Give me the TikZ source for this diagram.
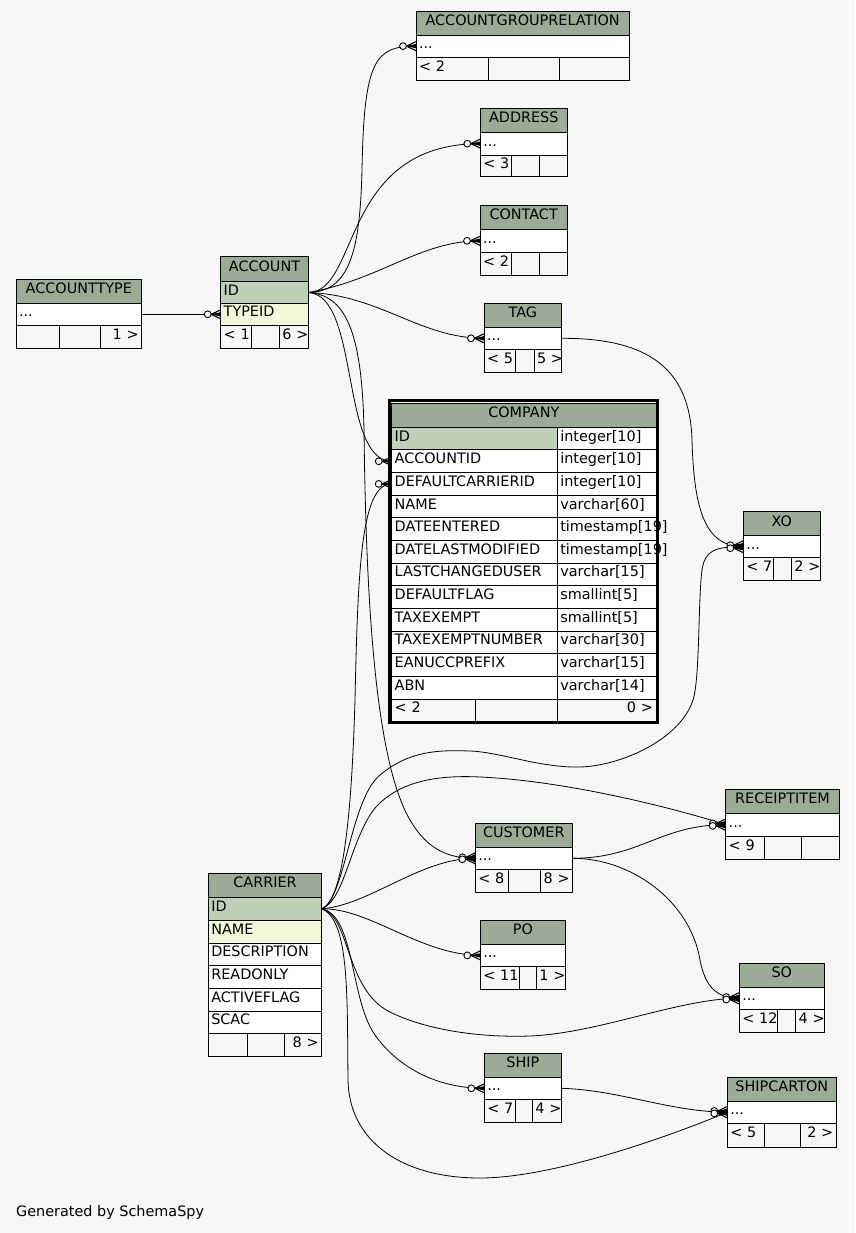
\documentclass[tikz,border=0pt]{standalone}
\usepackage{fontspec}
\newfontfamily\erfam{DejaVu Sans}
\newcommand\erfont{\erfam\fontsize{14.4}{16}\selectfont}
\definecolor{hdc}{HTML}{9BAB96}
\definecolor{pkc}{HTML}{BED1B8}
\definecolor{ixc}{HTML}{F4F7DA}
\definecolor{bgc}{HTML}{F7F7F7}
\tikzset{
  cellbase/.style={draw=black, line width=0.9pt, anchor=north west, inner xsep=3pt, inner ysep=0pt,
    outer sep=0pt, text height=10pt, text depth=5pt, font=\erfont, fill=white, align=left},
  hd/.style={fill=hdc, align=center},
  pk/.style={fill=pkc},
  ix/.style={fill=ixc},
  ftl/.style={fill=bgc, align=left},
  ftr/.style={fill=bgc, align=right},
  erline/.style={draw=black, line width=0.8pt},
  crowline/.style={draw=black, line width=1.1pt},
}
% name, style, x0, y0, x1, y1, text
\newcommand\ercell[7]{%
  \pgfmathsetmacro\ercw{#5-#3-6}%
  \pgfmathsetmacro\erch{#6-#4}%
  \node[cellbase,#2,text width=\ercw pt,minimum height=\erch pt] (#1) at (#3,#4) {\mbox{#7}};}
% crow's foot with circle at an anchor, vertical offset
\newcommand\ercrow[2]{%
  \begin{scope}[shift={(#1)}]\begin{scope}[shift={(0,#2)}]
    \draw[crowline] (-9.5,0) -- (0,-4.5) (-9.5,0) -- (0,4.5) (-9.5,0) -- (0,0);
    \fill[black] (-9.5,0) -- (0,-2.2) -- (0,2.2) -- cycle;
    \draw[line width=0.9pt, fill=white] (-13,0) circle[radius=3.4];
  \end{scope}\end{scope}}
\begin{document}
\begin{tikzpicture}[x=1pt,y=-1pt]
\useasboundingbox (0,0) rectangle (855,1233);
\fill[bgc] (0,0) rectangle (855,1233);

% ACCOUNTTYPE
\ercell{at}{hd}{16}{279.3}{141.7}{303.3}{ACCOUNTTYPE}
\ercell{at-r}{}{16}{303.3}{141.7}{325.3}{...}
\ercell{at-f1}{ftl}{16}{325.3}{59.3}{348.3}{}
\ercell{at-f2}{ftl}{59.3}{325.3}{100.7}{348.3}{}
\ercell{at-f3}{ftr}{100.7}{325.3}{141.7}{348.3}{1 >}

% ACCOUNT
\ercell{acc}{hd}{220.7}{256.5}{308.3}{281.7}{ACCOUNT}
\ercell{acc-id}{pk}{220.7}{281.7}{308.3}{303.3}{ID}
\ercell{acc-type}{ix}{220.7}{303.3}{308.3}{325.3}{TYPEID}
\ercell{acc-f1}{ftl}{220.7}{325.3}{251.7}{348.3}{< 1}
\ercell{acc-f2}{ftl}{251.7}{325.3}{279.3}{348.3}{}
\ercell{acc-f3}{ftr}{279.3}{325.3}{308.3}{348.3}{6 >}

% ACCOUNTGROUPRELATION
\ercell{agr}{hd}{416}{11.7}{629.3}{35}{ACCOUNTGROUPRELATION}
\ercell{agr-r}{}{416}{35}{629.3}{57.3}{...}
\ercell{agr-f1}{ftl}{416}{57.3}{488.3}{80}{< 2}
\ercell{agr-f2}{ftl}{488.3}{57.3}{559.3}{80}{}
\ercell{agr-f3}{ftr}{559.3}{57.3}{629.3}{80}{}

% ADDRESS
\ercell{adr}{hd}{480.3}{108.3}{567.3}{132.3}{ADDRESS}
\ercell{adr-r}{}{480.3}{132.3}{567.3}{155}{...}
\ercell{adr-f1}{ftl}{480.3}{155}{511}{176.7}{< 3}
\ercell{adr-f2}{ftl}{511}{155}{539.3}{176.7}{}
\ercell{adr-f3}{ftr}{539.3}{155}{567.3}{176.7}{}

% CONTACT
\ercell{con}{hd}{480}{205.7}{567.3}{229.3}{CONTACT}
\ercell{con-r}{}{480}{229.3}{567.3}{252.3}{...}
\ercell{con-f1}{ftl}{480}{252.3}{511}{275}{< 2}
\ercell{con-f2}{ftl}{511}{252.3}{539.3}{275}{}
\ercell{con-f3}{ftr}{539.3}{252.3}{567.3}{275}{}

% TAG
\ercell{tag}{hd}{484}{303.3}{561.7}{327.3}{TAG}
\ercell{tag-r}{}{484}{327.3}{561.7}{349.3}{...}
\ercell{tag-f1}{ftl}{484}{349.3}{515.7}{372.3}{< 5}
\ercell{tag-f2}{ftl}{515.7}{349.3}{534}{372.3}{}
\ercell{tag-f3}{ftr}{534}{349.3}{561.7}{372.3}{5 >}

% XO
\ercell{xo}{hd}{743.3}{511.7}{820.3}{535.7}{XO}
\ercell{xo-r}{}{743.3}{535.7}{820.3}{557.7}{...}
\ercell{xo-f1}{ftl}{743.3}{557.7}{773.3}{580}{< 7}
\ercell{xo-f2}{ftl}{773.3}{557.7}{791.3}{580}{}
\ercell{xo-f3}{ftr}{791.3}{557.7}{820.3}{580}{2 >}

% RECEIPTITEM
\ercell{ri}{hd}{725.7}{789.3}{839.3}{813.3}{RECEIPTITEM}
\ercell{ri-r}{}{725.7}{813.3}{839.3}{836}{...}
\ercell{ri-f1}{ftl}{725.7}{836}{764.7}{859}{< 9}
\ercell{ri-f2}{ftl}{764.7}{836}{801.7}{859}{}
\ercell{ri-f3}{ftr}{801.7}{836}{839.3}{859}{}

% CUSTOMER
\ercell{cus}{hd}{475.3}{823.3}{572.3}{847.3}{CUSTOMER}
\ercell{cus-r}{}{475.3}{847.3}{572.3}{869.3}{...}
\ercell{cus-f1}{ftl}{475.3}{869.3}{508.7}{892.3}{< 8}
\ercell{cus-f2}{ftl}{508.7}{869.3}{540.7}{892.3}{}
\ercell{cus-f3}{ftr}{540.7}{869.3}{572.3}{892.3}{8 >}

% PO
\ercell{po}{hd}{480.3}{920.3}{565.7}{944}{PO}
\ercell{po-r}{}{480.3}{944}{565.7}{966.7}{...}
\ercell{po-f1}{ftl}{480.3}{966.7}{519.7}{989}{< 11}
\ercell{po-f2}{ftl}{519.7}{966.7}{536.3}{989}{}
\ercell{po-f3}{ftr}{536.3}{966.7}{565.7}{989}{1 >}

% SHIP
\ercell{ship}{hd}{484.3}{1053.3}{561.3}{1077.3}{SHIP}
\ercell{ship-r}{}{484.3}{1077.3}{561.3}{1099.3}{...}
\ercell{ship-f1}{ftl}{484.3}{1099.3}{515.7}{1122.3}{< 7}
\ercell{ship-f2}{ftl}{515.7}{1099.3}{532.3}{1122.3}{}
\ercell{ship-f3}{ftr}{532.3}{1099.3}{561.3}{1122.3}{4 >}

% SO
\ercell{so}{hd}{739.3}{963.3}{824.3}{987.3}{SO}
\ercell{so-r}{}{739.3}{987.3}{824.3}{1009.3}{...}
\ercell{so-f1}{ftl}{739.3}{1009.3}{777.7}{1032.3}{< 12}
\ercell{so-f2}{ftl}{777.7}{1009.3}{795.7}{1032.3}{}
\ercell{so-f3}{ftr}{795.7}{1009.3}{824.3}{1032.3}{4 >}

% SHIPCARTON
\ercell{sc}{hd}{727.3}{1077.3}{836.3}{1101}{SHIPCARTON}
\ercell{sc-r}{}{727.3}{1101}{836.3}{1123.3}{...}
\ercell{sc-f1}{ftl}{727.3}{1123.3}{764.3}{1147.3}{< 5}
\ercell{sc-f2}{ftl}{764.3}{1123.3}{800.7}{1147.3}{}
\ercell{sc-f3}{ftr}{800.7}{1123.3}{836.3}{1147.3}{2 >}

% CARRIER
\ercell{car}{hd}{208.3}{873.3}{321.7}{897.3}{CARRIER}
\ercell{car-id}{pk}{208.3}{897.3}{321.7}{920.3}{ID}
\ercell{car-name}{ix}{208.3}{920.3}{321.7}{943.3}{NAME}
\ercell{car-desc}{}{208.3}{943.3}{321.7}{965.3}{DESCRIPTION}
\ercell{car-ro}{}{208.3}{965.3}{321.7}{988.3}{READONLY}
\ercell{car-af}{}{208.3}{988.3}{321.7}{1011}{ACTIVEFLAG}
\ercell{car-scac}{}{208.3}{1011}{321.7}{1033.3}{SCAC}
\ercell{car-f1}{ftl}{208.3}{1033.3}{247.7}{1056}{}
\ercell{car-f2}{ftl}{247.7}{1033.3}{284.7}{1056}{}
\ercell{car-f3}{ftr}{284.7}{1033.3}{321.7}{1056}{8 >}

% COMPANY
\ercell{cmp}{hd}{391.7}{403.3}{656}{427.3}{COMPANY}
\ercell{cmp-id}{pk}{391.7}{427.3}{557.3}{449.9}{ID}
\ercell{cmp-id-t}{}{557.3}{427.3}{656}{449.9}{integer[10]}
\ercell{cmp-acc}{}{391.7}{449.9}{557.3}{472.6}{ACCOUNTID}
\ercell{cmp-acc-t}{}{557.3}{449.9}{656}{472.6}{integer[10]}
\ercell{cmp-dc}{}{391.7}{472.6}{557.3}{495.2}{DEFAULTCARRIERID}
\ercell{cmp-dc-t}{}{557.3}{472.6}{656}{495.2}{integer[10]}
\ercell{cmp-name}{}{391.7}{495.2}{557.3}{517.9}{NAME}
\ercell{cmp-name-t}{}{557.3}{495.2}{656}{517.9}{varchar[60]}
\ercell{cmp-de}{}{391.7}{517.9}{557.3}{540.5}{DATEENTERED}
\ercell{cmp-de-t}{}{557.3}{517.9}{656}{540.5}{timestamp[19]}
\ercell{cmp-dlm}{}{391.7}{540.5}{557.3}{563.1}{DATELASTMODIFIED}
\ercell{cmp-dlm-t}{}{557.3}{540.5}{656}{563.1}{timestamp[19]}
\ercell{cmp-lcu}{}{391.7}{563.1}{557.3}{585.8}{LASTCHANGEDUSER}
\ercell{cmp-lcu-t}{}{557.3}{563.1}{656}{585.8}{varchar[15]}
\ercell{cmp-df}{}{391.7}{585.8}{557.3}{608.4}{DEFAULTFLAG}
\ercell{cmp-df-t}{}{557.3}{585.8}{656}{608.4}{smallint[5]}
\ercell{cmp-te}{}{391.7}{608.4}{557.3}{631.1}{TAXEXEMPT}
\ercell{cmp-te-t}{}{557.3}{608.4}{656}{631.1}{smallint[5]}
\ercell{cmp-ten}{}{391.7}{631.1}{557.3}{653.7}{TAXEXEMPTNUMBER}
\ercell{cmp-ten-t}{}{557.3}{631.1}{656}{653.7}{varchar[30]}
\ercell{cmp-ean}{}{391.7}{653.7}{557.3}{676.3}{EANUCCPREFIX}
\ercell{cmp-ean-t}{}{557.3}{653.7}{656}{676.3}{varchar[15]}
\ercell{cmp-abn}{}{391.7}{676.3}{557.3}{699}{ABN}
\ercell{cmp-abn-t}{}{557.3}{676.3}{656}{699}{varchar[14]}
\ercell{cmp-f1}{ftl}{391.7}{699}{475.7}{721.3}{< 2}
\ercell{cmp-f2}{ftl}{475.7}{699}{557.3}{721.3}{}
\ercell{cmp-f3}{ftr}{557.3}{699}{656}{721.3}{0 >}
\draw[line width=3pt] (389,400.4) rectangle (657.7,722.6);

% connectors
\draw[erline] (at-r.east) -- (acc-type.west);
\draw[erline] (acc-id.east) .. controls (350,292) and (360,250) .. (362,170) .. controls (364,60) and (375,46.2) .. (agr-r.west);
\draw[erline] (acc-id.east) .. controls (360,292) and (340,143.7) .. (adr-r.west);
\draw[erline] (acc-id.east) .. controls (380,280) and (420,240.8) .. (con-r.west);
\draw[erline] (acc-id.east) .. controls (380,295) and (420,338.3) .. (tag-r.west);
\draw[erline] (acc-id.east) .. controls (360,295) and (340,461) .. (cmp-acc.west);
\draw[erline] (acc-id.east) .. controls (345,295) and (362,330) .. (364,430) .. controls (366,600) and (375,760) .. (410,820) .. controls (428,851) and (450,858.3) .. (cus-r.west);
\draw[erline] (tag-r.east) .. controls (650,338) and (690,370) .. (692,440) .. controls (694,510) and (705,546.7) .. (xo-r.west);
\draw[erline] (car-id.east) .. controls (345,900) and (352,800) .. (355,700) .. controls (358,560) and (362,484) .. (cmp-dc.west);
\draw[erline] (car-id.east) .. controls (345,900) and (350,800) .. (380,775) .. controls (410,750) and (440,750) .. (470,751) .. controls (500,752) and (540,768) .. (580,767) .. controls (620,766) and (680,740) .. (693,700) .. controls (700,678) and (698,600) .. (702,570) .. controls (705,550) and (715,546.7) .. (xo-r.west);
\draw[erline] (car-id.east) .. controls (345,900) and (350,840) .. (375,808) .. controls (400,780) and (440,775) .. (480,777) .. controls (570,781) and (680,810) .. (ri-r.west);
\draw[erline] (car-id.east) .. controls (370,905) and (420,858.3) .. (cus-r.west);
\draw[erline] (car-id.east) .. controls (370,908) and (420,955) .. (po-r.west);
\draw[erline] (car-id.east) .. controls (350,915) and (345,990) .. (390,1012) .. controls (420,1027) and (470,1038) .. (530,1036) .. controls (600,1033) and (680,998.3) .. (so-r.west);
\draw[erline] (car-id.east) .. controls (355,915) and (350,1000) .. (375,1035) .. controls (400,1070) and (440,1088.3) .. (ship-r.west);
\draw[erline] (car-id.east) .. controls (350,920) and (347,1000) .. (348,1080) .. controls (349,1140) and (400,1178) .. (480,1178) .. controls (560,1178) and (690,1128) .. (sc-r.west);
\draw[erline] (cus-r.east) .. controls (640,858.3) and (660,824.7) .. (ri-r.west);
\draw[erline] (cus-r.east) .. controls (630,858) and (690,900) .. (700,960) .. controls (705,985) and (715,998.3) .. (so-r.west);
\draw[erline] (ship-r.east) .. controls (620,1090) and (670,1112) .. (sc-r.west);

% crow's feet
\ercrow{acc-type.west}{0}
\ercrow{agr-r.west}{0}
\ercrow{adr-r.west}{0}
\ercrow{con-r.west}{0}
\ercrow{tag-r.west}{0}
\ercrow{cmp-acc.west}{0}
\ercrow{cmp-dc.west}{0}
\ercrow{xo-r.west}{-1.5}
\ercrow{xo-r.west}{1.5}
\ercrow{ri-r.west}{-1.2}
\ercrow{ri-r.west}{1.2}
\ercrow{cus-r.west}{-1}
\ercrow{cus-r.west}{1}
\ercrow{po-r.west}{0}
\ercrow{so-r.west}{-1.2}
\ercrow{so-r.west}{1.2}
\ercrow{ship-r.west}{0}
\ercrow{sc-r.west}{-1.2}
\ercrow{sc-r.west}{1.2}

\node[anchor=base west, font=\erfont, inner sep=0pt] (gen) at (16,1216) {Generated by SchemaSpy};
\end{tikzpicture}
\end{document}
